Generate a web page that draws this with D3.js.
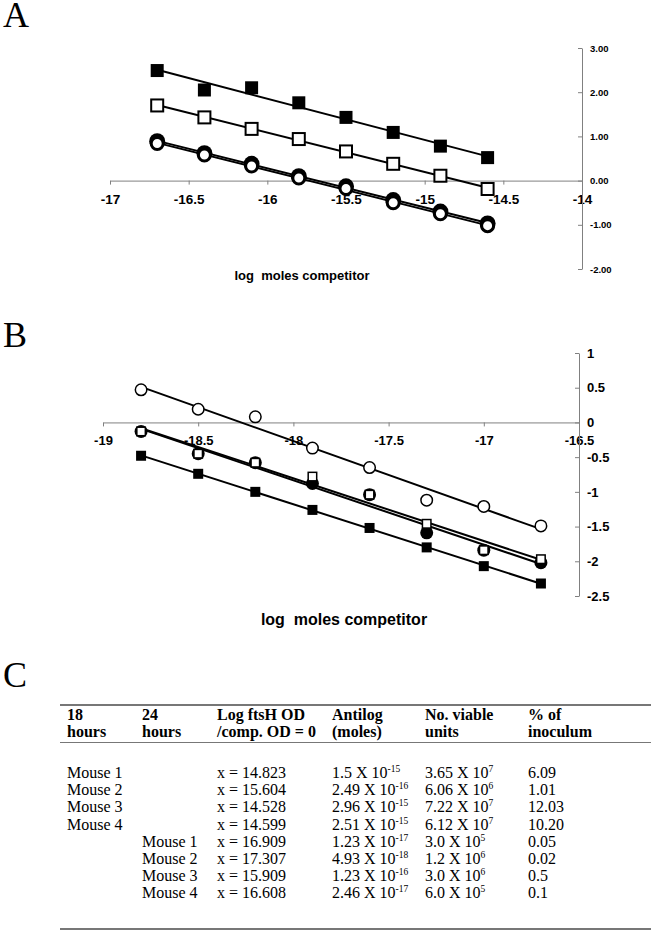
<!DOCTYPE html>
<html><head><meta charset="utf-8">
<script src="https://cdn.jsdelivr.net/npm/d3@7"></script>
<style>body{margin:0;background:#fff}svg{display:block}</style>
</head><body><div id="c"></div>
<script>
// ---------- Panel A data ----------
const xA = [-16.7,-16.4,-16.1,-15.8,-15.5,-15.2,-14.9,-14.6];
const aFilledSquare = [2.49,2.05,2.10,1.76,1.43,1.09,0.78,0.52];
const aOpenSquare   = [1.70,1.43,1.17,0.94,0.66,0.38,0.11,-0.19];
const aFilledCircle = [0.89,0.62,0.38,0.10,-0.13,-0.44,-0.70,-0.97];
const aOpenCircle   = [0.84,0.58,0.33,0.06,-0.18,-0.50,-0.75,-1.02];
const aXTicks = [-17,-16.5,-16,-15.5,-15,-14.5,-14];
const aYTicks = [3,2,1,0,-1,-2];
// ---------- Panel B data ----------
const xB = [-18.8,-18.5,-18.2,-17.9,-17.6,-17.3,-17.0,-16.7];
const bOpenCircle   = [0.47,0.19,0.08,-0.37,-0.65,-1.12,-1.21,-1.49];
const bFilledCircle = [-0.13,-0.45,-0.58,-0.88,-1.04,-1.59,-1.84,-2.02];
const bOpenSquare   = [-0.13,-0.45,-0.58,-0.78,-1.04,-1.46,-1.84,-1.97];
const bFilledSquare = [-0.48,-0.74,-1.00,-1.26,-1.52,-1.80,-2.07,-2.32];
const bXTicks = [-19,-18.5,-18,-17.5,-17,-16.5];
const bYTicks = [1,0.5,0,-0.5,-1,-1.5,-2,-2.5];
const axisTitle = "log  moles competitor";
// ---------- Panel C data ----------
const headerLine1 = ["18","24","Log ftsH OD","Antilog","No. viable","% of"];
const headerLine2 = ["hours","hours","/comp. OD = 0","(moles)","units","inoculum"];
const col18 = ["Mouse 1","Mouse 2","Mouse 3","Mouse 4","","","",""];
const col24 = ["","","","","Mouse 1","Mouse 2","Mouse 3","Mouse 4"];
const logOD = ["x = 14.823","x = 15.604","x = 14.528","x = 14.599","x = 16.909","x = 17.307","x = 15.909","x = 16.608"];
const antilogMant = ["1.5","2.49","2.96","2.51","1.23","4.93","1.23","2.46"];
const antilogExp  = ["-15","-16","-15","-15","-17","-18","-16","-17"];
const viableMant = ["3.65","6.06","7.22","6.12","3.0","1.2","3.0","6.0"];
const viableExp  = ["7","6","7","7","5","6","6","5"];
const pctInoc = ["6.09","1.01","12.03","10.20","0.05","0.02","0.5","0.1"];

const W = 651, H = 938;
const svg = d3.select("#c").append("svg").attr("width", W).attr("height", H);
const SANS = "Arial, 'Liberation Sans', sans-serif";
const SERIF = "'Times New Roman', 'Liberation Serif', serif";
const AXC = "#808080";

function regression(xs, ys){
  const n = xs.length, mx = d3.mean(xs), my = d3.mean(ys);
  let sxy = 0, sxx = 0;
  for (let i=0;i<n;i++){ sxy += (xs[i]-mx)*(ys[i]-my); sxx += (xs[i]-mx)**2; }
  const b = sxy/sxx, a = my - b*mx;
  const x0 = d3.min(xs), x1 = d3.max(xs);
  return [[x0, a+b*x0],[x1, a+b*x1]];
}

function panelLabel(t, x, y){
  svg.append("text").attr("x", x).attr("y", y).text(t)
    .attr("font-family", SERIF).attr("font-size", 36).attr("fill", "#000");
}

function drawAxes(g, x, y, xTicks, yTicks, xFmt, yFmt, xFont, yFont, xLabDy, yLabDx){
  const x0 = y(0), yAxisX = x.range()[1];
  const xa = g.append("g").attr("transform", `translate(0,${x0})`)
    .call(d3.axisBottom(x).tickValues(xTicks).tickFormat(xFmt).tickSize(4).tickSizeOuter(0));
  xa.select(".domain").attr("stroke", AXC);
  xa.selectAll(".tick line").attr("stroke", AXC);
  xa.selectAll(".tick text").attr("y", xLabDy).attr("font-family", SANS)
    .attr("font-weight", "bold").attr("font-size", xFont).attr("fill", "#000");
  const ya = g.append("g").attr("transform", `translate(${yAxisX},0)`)
    .call(d3.axisRight(y).tickValues(yTicks).tickFormat(yFmt).tickSize(0).tickSizeOuter(0));
  ya.select(".domain").attr("stroke", AXC);
  ya.selectAll(".tick line").attr("x2", -4).attr("stroke", AXC);
  ya.selectAll(".tick text").attr("x", yLabDx).attr("font-family", SANS)
    .attr("font-weight", "bold").attr("font-size", yFont).attr("fill", "#000");
  g.selectAll(".domain").attr("stroke-width", 1);
}

function drawSeries(g, x, y, xs, ys, marker, size, lw){
  const pts = regression(xs, ys);
  g.append("line").attr("x1", x(pts[0][0])).attr("y1", y(pts[0][1]))
    .attr("x2", x(pts[1][0])).attr("y2", y(pts[1][1]))
    .attr("stroke", "#000").attr("stroke-width", lw);
  const data = xs.map((v,i)=>[v, ys[i]]);
  const m = g.append("g");
  if (marker === "fsq" || marker === "osq"){
    const sw = marker === "osq" ? size.sw : 0;
    const s = size.s - sw;
    m.selectAll("rect").data(data).join("rect")
      .attr("x", d => x(d[0]) - s/2).attr("y", d => y(d[1]) - s/2)
      .attr("width", s).attr("height", s)
      .attr("fill", marker === "fsq" ? "#000" : "#fff")
      .attr("stroke", "#000").attr("stroke-width", sw);
  } else {
    const sw = marker === "oc" ? size.sw : 0;
    m.selectAll("circle").data(data).join("circle")
      .attr("cx", d => x(d[0])).attr("cy", d => y(d[1]))
      .attr("r", size.s/2 - sw/2)
      .attr("fill", marker === "fc" ? "#000" : "#fff")
      .attr("stroke", "#000").attr("stroke-width", sw);
  }
}

const fmtPlain = d => String(d);
// ---------- Panel A ----------
panelLabel("A", 3, 27);
{
  const x = d3.scaleLinear().domain([-17,-14]).range([110,582]);
  const y = d3.scaleLinear().domain([-2,3]).range([269,48]);
  const g = svg.append("g");
  drawAxes(g, x, y, aXTicks, aYTicks, fmtPlain, d => d.toFixed(2), 13.5, 9.5, 14, 8);
  drawSeries(g, x, y, xA, aFilledSquare, "fsq", {s:13}, 2);
  drawSeries(g, x, y, xA, aOpenSquare, "osq", {s:14, sw:2}, 2);
  drawSeries(g, x, y, xA, aFilledCircle, "fc", {s:16}, 2);
  drawSeries(g, x, y, xA, aOpenCircle, "oc", {s:15, sw:3}, 2);
  svg.append("text").attr("x", 302).attr("y", 280).attr("text-anchor", "middle")
    .attr("font-family", SANS).attr("font-weight", "bold").attr("font-size", 13)
    .style("white-space", "pre").text(axisTitle);
}
// ---------- Panel B ----------
panelLabel("B", 3, 347);
{
  const x = d3.scaleLinear().domain([-19,-16.5]).range([103,579]);
  const y = d3.scaleLinear().domain([-2.5,1]).range([596,353]);
  const g = svg.append("g");
  drawAxes(g, x, y, bXTicks, bYTicks, fmtPlain, fmtPlain, 13, 13, 13, 8);
  drawSeries(g, x, y, xB, bOpenCircle, "oc", {s:13, sw:1.5}, 2);
  drawSeries(g, x, y, xB, bFilledCircle, "fc", {s:13}, 2);
  drawSeries(g, x, y, xB, bOpenSquare, "osq", {s:10, sw:1.5}, 2);
  drawSeries(g, x, y, xB, bFilledSquare, "fsq", {s:10}, 2);
  svg.append("text").attr("x", 344).attr("y", 625).attr("text-anchor", "middle")
    .attr("font-family", SANS).attr("font-weight", "bold").attr("font-size", 16)
    .style("white-space", "pre").text(axisTitle);
}
// ---------- Panel C ----------
panelLabel("C", 3, 687);
{
  const colX = [67, 142, 217, 332, 425, 528];
  const g = svg.append("g").attr("font-family", SERIF).attr("fill", "#000");
  g.append("line").attr("x1", 60).attr("x2", 651).attr("y1", 705).attr("y2", 705)
    .attr("stroke", "#777").attr("stroke-width", 2);
  g.append("line").attr("x1", 60).attr("x2", 651).attr("y1", 742.5).attr("y2", 742.5)
    .attr("stroke", "#777").attr("stroke-width", 1);
  g.append("line").attr("x1", 60).attr("x2", 651).attr("y1", 929).attr("y2", 929)
    .attr("stroke", "#777").attr("stroke-width", 2);
  const hfs = 16;
  headerLine1.forEach((t,i) => g.append("text").attr("x", colX[i]).attr("y", 720)
    .attr("font-weight", "bold").attr("font-size", hfs).text(t));
  headerLine2.forEach((t,i) => g.append("text").attr("x", colX[i]).attr("y", 737)
    .attr("font-weight", "bold").attr("font-size", hfs).text(t));
  const rowY = i => 778 + i*17.2;
  const fs = 16;
  col18.forEach((t,i) => g.append("text").attr("x", colX[0]).attr("y", rowY(i)).attr("font-size", fs).text(t));
  col24.forEach((t,i) => g.append("text").attr("x", colX[1]).attr("y", rowY(i)).attr("font-size", fs).text(t));
  logOD.forEach((t,i) => g.append("text").attr("x", colX[2]).attr("y", rowY(i)).attr("font-size", fs).text(t));
  const sci = (col, mant, exp) => mant.forEach((t,i) => {
    const tx = g.append("text").attr("x", colX[col]).attr("y", rowY(i)).attr("font-size", fs);
    tx.append("tspan").text(t + " X 10");
    tx.append("tspan").attr("dy", -6).attr("font-size", 9.5).text(exp[i]);
  });
  sci(3, antilogMant, antilogExp);
  sci(4, viableMant, viableExp);
  pctInoc.forEach((t,i) => g.append("text").attr("x", colX[5]).attr("y", rowY(i)).attr("font-size", fs).text(t));
}
</script></body></html>
